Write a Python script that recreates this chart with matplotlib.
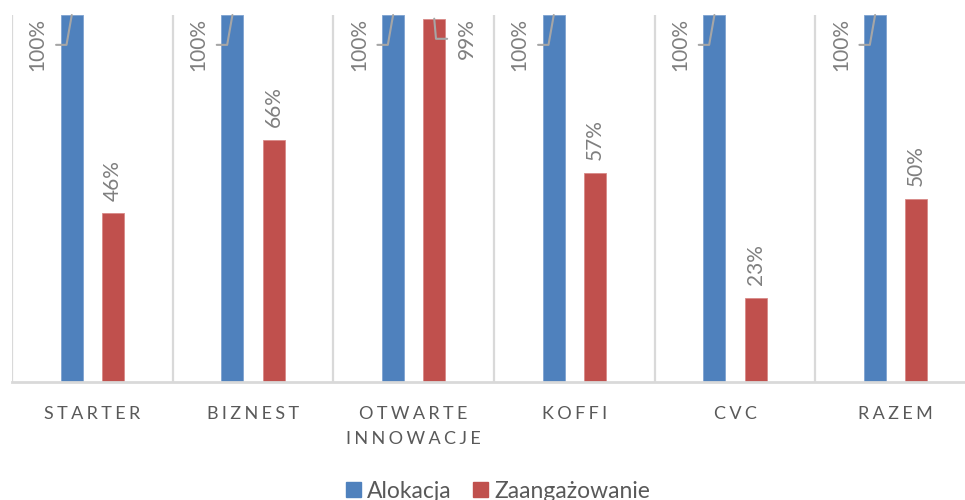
import matplotlib
matplotlib.use("Agg")
import matplotlib.pyplot as plt
from matplotlib.patches import Patch

categories = ["STARTER", "BIZNEST", "OTWARTE\nINNOWACJE", "KOFFI", "CVC", "RAZEM"]
alokacja = [1.00, 1.00, 1.00, 1.00, 1.00, 1.00]
zaangazowanie = [0.46, 0.66, 0.99, 0.57, 0.23, 0.50]
series_names = ["Alokacja", "Zaangażowanie"]

BLUE = "#4F81BD"
RED = "#C0504D"
GRID = "#D9D9D9"
LABEL = "#7F7F7F"
TEXT = "#595959"
LEADER = "#A6A6A6"

plt.rcParams["font.family"] = ["Lato", "DejaVu Sans"]

fig = plt.figure(figsize=(9.65, 5.0), dpi=100)
ax = fig.add_axes([12 / 965, 118 / 500, 964 / 965, 367 / 500])

n = len(categories)
x = list(range(n))
bw = 0.137
off = 0.128

ax.bar([i - off for i in x], alokacja, width=bw, color=BLUE, edgecolor="#7FA3D0", linewidth=0.6, zorder=3)
ax.bar([i + off for i in x], zaangazowanie, width=bw, color=RED, edgecolor="#D88A88", linewidth=0.6, zorder=3)

ax.set_xlim(-0.5, n - 0.5)
ax.set_ylim(0, 1.0)

for k in range(n + 1):
    ax.axvline(k - 0.5, color=GRID, lw=1.6, zorder=1)

for s in ["top", "right", "left"]:
    ax.spines[s].set_visible(False)
ax.spines["bottom"].set_color(GRID)
ax.spines["bottom"].set_linewidth(2)
ax.spines["bottom"].set_zorder(4)
ax.set_yticks([])


def spaced(s):
    return "\n".join("\u2009\u200a".join(list(line)) for line in s.split("\n"))


ax.set_xticks(x)
ax.set_xticklabels([spaced(c) for c in categories], color=TEXT, fontsize=13, linespacing=1.7)
ax.tick_params(axis="x", length=0, pad=17)

fs = 15
for i, v in zip(x, alokacja):
    ax.annotate(f"{v:.0%}", xy=(i - off, v), xytext=(-24.5, -21.5), textcoords="offset points",
                rotation=90, ha="center", va="center", color=LABEL, fontsize=fs,
                arrowprops=dict(arrowstyle="-", color=LEADER, lw=1.5, shrinkA=4, shrinkB=0,
                                connectionstyle="angle,angleA=0,angleB=80,rad=0"),
                annotation_clip=False, zorder=5)

for i, v in zip(x, zaangazowanie):
    if v >= 0.95:
        ax.annotate(f"{v:.0%}", xy=(i + off, v), xytext=(23.5, -14.5), textcoords="offset points",
                    rotation=90, ha="center", va="center", color=LABEL, fontsize=fs,
                    arrowprops=dict(arrowstyle="-", color=LEADER, lw=1.5, shrinkA=5, shrinkB=0,
                                    connectionstyle="angle,angleA=180,angleB=95,rad=0"),
                    annotation_clip=False, zorder=5)
    else:
        ax.annotate(f"{v:.0%}", xy=(i + off, v), xytext=(0, 9), textcoords="offset points",
                    rotation=90, ha="center", va="bottom", color=LABEL, fontsize=fs, zorder=5)

handles = [Patch(facecolor=BLUE, edgecolor=BLUE), Patch(facecolor=RED, edgecolor=RED)]
leg = fig.legend(handles, series_names, loc="lower center", bbox_to_anchor=(0.516, -0.045), ncol=2,
                 frameon=False, fontsize=16.5, handlelength=0.65, handleheight=0.65,
                 handletextpad=0.3, columnspacing=0.9, labelcolor=TEXT)

fig.savefig("out.png", dpi=100)
